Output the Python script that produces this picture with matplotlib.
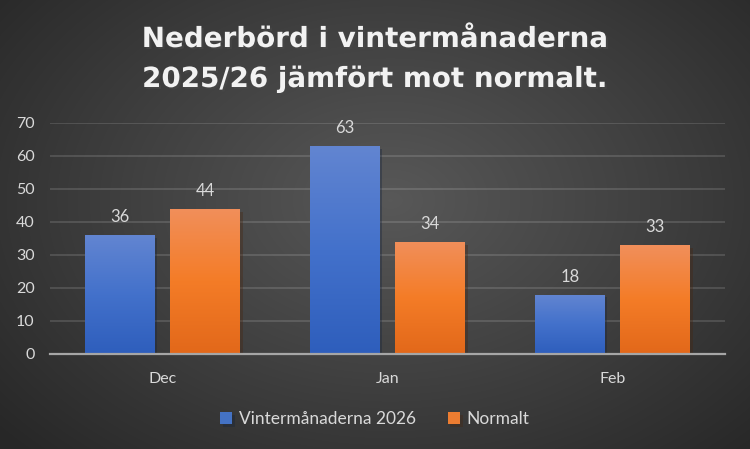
import numpy as np
import matplotlib
matplotlib.use("Agg")
import matplotlib.pyplot as plt
import matplotlib.patheffects as pe
from matplotlib.colors import LinearSegmentedColormap

# data
months = ["Dec", "Jan", "Feb"]
vinter_2026 = [36, 63, 18]
normalt = [44, 34, 33]
series_names = ["Vintermånaderna 2026", "Normalt"]
yticks = [0, 10, 20, 30, 40, 50, 60, 70]
title_lines = ["Nederbörd i vintermånaderna", "2025/26 jämfört mot normalt."]

txt_col = "#d9d9d9"
blue_cmap = LinearSegmentedColormap.from_list("b", ["#2e5ebc", "#4371cb", "#6285d1"])
orange_cmap = LinearSegmentedColormap.from_list("o", ["#e2681a", "#f47c27", "#f18f5b"])

fig = plt.figure(figsize=(7.5, 4.49), dpi=100)

# radial gradient background
bg = fig.add_axes([0, 0, 1, 1], zorder=-10)
yy, xx = np.mgrid[0:449, 0:750]
r = np.sqrt(((xx - 390) / 520.0) ** 2 + ((yy - 200) / 360.0) ** 2)
r = np.clip(r, 0, 1)
bg_cmap = LinearSegmentedColormap.from_list("bg", ["#585858", "#404040", "#272727"])
bg.imshow(r, cmap=bg_cmap, aspect="auto", extent=[0, 1, 0, 1], vmin=0, vmax=1)
bg.axis("off")

ax = fig.add_axes([0.0667, 0.2116, 0.9, 0.5145])
ax.set_facecolor("none")
x = np.arange(len(months))
w = 0.31
off = 0.19

grad = np.linspace(0, 1, 256).reshape(-1, 1)
for vals, cmap, sign, name, fc in [(vinter_2026, blue_cmap, -1, series_names[0], "#4472c4"),
                                   (normalt, orange_cmap, 1, series_names[1], "#ed7d31")]:
    bars = ax.bar(x + sign * off, vals, w, color=fc, label=name, zorder=3,
                  path_effects=[pe.SimplePatchShadow(offset=(2, -2), alpha=0.35), pe.Normal()])
    for b, v in zip(bars, vals):
        bx, by = b.get_x(), b.get_y()
        im = ax.imshow(grad, extent=[bx, bx + b.get_width(), by, by + b.get_height()],
                       origin="lower", cmap=cmap, aspect="auto", zorder=4)
        im.set_clip_path(b)
        ax.text(bx + b.get_width() / 2, v + 3.0, str(v), ha="center", va="bottom",
                color=txt_col, fontsize=12, family="Lato", zorder=5)

ax.set_xlim(-0.5, 2.5)
ax.set_ylim(0, 70)
ax.set_yticks(yticks)
ax.set_xticks(x)
ax.set_xticklabels(months)
ax.tick_params(length=0, colors=txt_col, labelsize=11.5)
ax.tick_params(axis="y", pad=11)
ax.tick_params(axis="x", pad=13)
for lab in ax.get_xticklabels() + ax.get_yticklabels():
    lab.set_family("Lato")
ax.grid(axis="y", color="white", alpha=0.14, linewidth=1.3, zorder=0)
for s in ["top", "right", "left"]:
    ax.spines[s].set_visible(False)
ax.spines["bottom"].set_color("#a6a6a6")
ax.spines["bottom"].set_linewidth(1.6)
ax.spines["bottom"].set_zorder(6)

# title, two lines
for line, yb in zip(title_lines, [0.8953, 0.8062]):
    fig.text(0.5, yb, line, ha="center", va="baseline", color="#f2f2f2",
             fontsize=20, fontweight="bold", family="DejaVu Sans",
             path_effects=[pe.withSimplePatchShadow(offset=(1.5, -1.5), alpha=0.6)])

leg = fig.legend(loc="center", bbox_to_anchor=(0.5, 0.067), ncol=2, frameon=False,
                 handlelength=0.7, handleheight=0.7, handletextpad=0.4, columnspacing=1.8,
                 prop={"family": "Lato", "size": 12.5})
for t in leg.get_texts():
    t.set_color(txt_col)

fig.savefig("out.png", dpi=100)
